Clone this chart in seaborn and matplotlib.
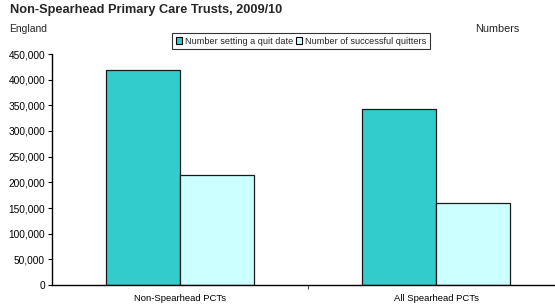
import matplotlib
matplotlib.use("Agg")
import matplotlib.pyplot as plt
import seaborn as sns
import pandas as pd
from matplotlib.ticker import FuncFormatter

categories = ["Non-Spearhead PCTs", "All Spearhead PCTs"]
series_names = ["Number setting a quit date", "Number of successful quitters"]
quit_date = [418000, 342000]
successful = [214000, 160000]
colors = ["#33CCCC", "#CCFFFF"]

df = pd.DataFrame({
    "category": categories * 2,
    "series": [series_names[0]] * 2 + [series_names[1]] * 2,
    "value": quit_date + successful,
})

sns.set_theme(style="white")
plt.rcParams["font.family"] = ["Liberation Sans", "DejaVu Sans"]

fig = plt.figure(figsize=(5.55, 3.05), dpi=100)
ax = fig.add_axes([52 / 555, (305 - 285) / 305, (564 - 52) / 555, (285 - 54) / 305])

sns.barplot(data=df, x="category", y="value", hue="series", order=categories,
            hue_order=series_names, palette=colors, width=0.575, saturation=1,
            edgecolor="#1a1a1a", linewidth=0.9, ax=ax, legend=True)

ax.set_xlim(-0.5, 1.5)
ax.set_ylim(0, 450000)
ax.set_yticks(range(0, 450001, 50000))
ax.yaxis.set_major_formatter(FuncFormatter(lambda v, p: f"{int(v):,}"))
ax.set_xlabel("")
ax.set_ylabel("")
ax.tick_params(axis="y", which="major", length=3, width=0.8, color="black",
               labelsize=7.3, pad=2, left=True, direction="out")
ax.tick_params(axis="x", which="major", length=0, labelsize=6.8, pad=6.5)
ax.set_xticks([0.5], minor=True)
ax.tick_params(axis="x", which="minor", length=3, width=0.8, color="#555555",
               bottom=True, direction="out")
for lab in ax.get_xticklabels() + ax.get_yticklabels():
    lab.set_color("black")

for s in ["top", "right"]:
    ax.spines[s].set_visible(False)
for s in ["left", "bottom"]:
    ax.spines[s].set_color("black")
    ax.spines[s].set_linewidth(1.0)
ax.grid(False)

leg = ax.legend(loc="upper left", bbox_to_anchor=(172 / 555, 1 - 33 / 305),
                bbox_transform=fig.transFigure, ncol=2, fontsize=6.6,
                frameon=True, fancybox=False, edgecolor="black",
                handlelength=0.7, handleheight=0.7, handletextpad=0.3,
                columnspacing=0.3, borderpad=0.4, borderaxespad=0)
leg.get_frame().set_linewidth(0.8)
for h in leg.legend_handles:
    h.set_edgecolor("black")
    h.set_linewidth(0.8)

fig.text(10 / 555, 1 - 4 / 305, "Non-Spearhead Primary Care Trusts, 2009/10",
         fontsize=9.2, fontweight="bold", va="top", ha="left")
fig.text(9 / 555, 1 - 24 / 305, "England", fontsize=7.5, va="top", ha="left")
fig.text(475 / 555, 1 - 24 / 305, "Numbers", fontsize=7.8, va="top", ha="left")

fig.savefig("out.png", dpi=100)
